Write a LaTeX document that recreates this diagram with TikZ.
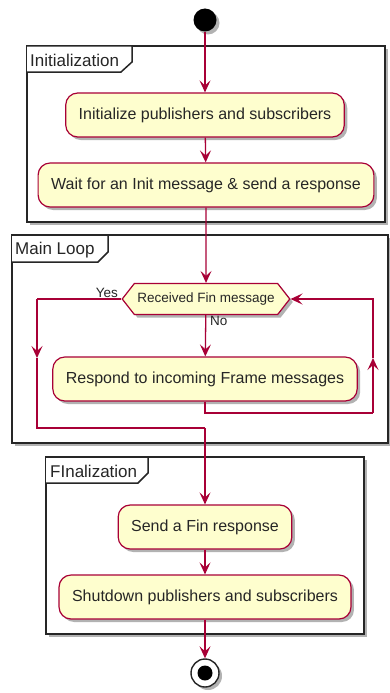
\documentclass[tikz,border=0pt]{standalone}
\usepackage{fontspec}
\setmainfont{Liberation Sans}
\usetikzlibrary{arrows.meta,shadows,shapes.symbols}
\definecolor{actfill}{HTML}{FEFECE}
\definecolor{actline}{HTML}{A80036}
\tikzset{
  x=1pt, y=-1pt,
  shade/.style={drop shadow={shadow xshift=3pt, shadow yshift=-3pt, opacity=0.3, fill=black}},
  action/.style={rounded corners=12pt, draw=actline, line width=1.2pt, fill=actfill,
    inner xsep=13pt, minimum height=44pt, font=\fontsize{16}{18}\selectfont, text=black!85, shade},
  choice/.style={signal, signal to=west and east, signal pointer angle=104, draw=actline,
    line width=1.2pt, fill=actfill, inner xsep=3pt, minimum height=31pt,
    font=\fontsize{13.5}{15}\selectfont, text=black!85, shade},
  flow/.style={draw=actline, line width=1.3pt},
  arr/.style={flow, -{Stealth[length=12pt, width=11pt, inset=5pt]}},
  framebox/.style={draw=black!85, line width=1.8pt, shade},
  tabline/.style={draw=black!85, line width=1.5pt},
  framelabel/.style={anchor=west, inner sep=0pt, font=\fontsize{17}{19}\selectfont, text=black!85},
  branch/.style={inner sep=0pt, font=\fontsize{13.5}{15}\selectfont, text=black!85},
}
\begin{document}
\begin{tikzpicture}
\useasboundingbox (0,0) rectangle (390,693);

% group frames
\path[framebox, fill=white] (27,46) rectangle (385,222);
\path[tabline, fill=white] (27,46) -- (132,46) -- (132,62) -- (121,72) -- (27,72);
\node[framelabel] (initlabel) at (30,60) {Initialization};

\path[framebox, fill=white] (12,235) rectangle (388,443);
\path[tabline, fill=white] (12,235) -- (108,235) -- (108,252) -- (98,262) -- (12,262);
\node[framelabel] (looplabel) at (15,250) {Main Loop};

\path[framebox, fill=white] (46,457) rectangle (364,634);
\path[tabline, fill=white] (46,457) -- (148,457) -- (148,473) -- (138,483) -- (46,483);
\node[framelabel] (finlabel) at (50,471) {FInalization};

% start and stop
\node[circle, fill=black, minimum size=23pt, inner sep=0pt, shade] (start) at (205,20) {};
\node[circle, draw=black!85, line width=1.4pt, fill=white, minimum size=28pt, inner sep=0pt, shade] (stop) at (205,673) {};
\node[circle, fill=black, minimum size=15pt, inner sep=0pt] (stopdot) at (stop) {};

% actions
\node[action] (init1) at (205,115) {Initialize publishers and subscribers};
\node[action] (init2) at (206,185) {Wait for an Init message \& send a response};
\node[choice] (fin) at (206,299) {Received Fin message};
\node[action] (resp) at (205,379) {Respond to incoming Frame messages};
\node[action] (fin1) at (205,527) {Send a Fin response};
\node[action] (fin2) at (205,597) {Shutdown publishers and subscribers};

% branch labels
\node[branch, anchor=south east] (yes) at (118,298) {Yes};
\node[branch, anchor=north west] (no) at (210,316) {No};

% bend points
\coordinate (yescorner) at (37,299);
\coordinate (yesmid) at (37,358);
\coordinate (yesbottom) at (37,428);
\coordinate (merge) at (205,428);
\coordinate (loopfoot) at (205,413);
\coordinate (loopcorner) at (373,413);
\coordinate (loopmid) at (373,358);
\coordinate (looptop) at (373,299);

% connectors
\draw[arr] (start) -- (init1);
\draw[arr] (init1) -- (init2);
\draw[arr] (init2) -- (fin);
\draw[arr] (fin) -- (resp);
\draw[flow] (resp.south) -- (loopfoot) -- (loopcorner);
\draw[arr] (loopcorner) -- (loopmid);
\draw[arr] (loopmid) -- (looptop) -- (fin.east);
\draw[flow] (fin.west) -- (yescorner);
\draw[arr] (yescorner) -- (yesmid);
\draw[flow] (yesmid) -- (yesbottom) -- (merge);
\draw[arr] (merge) -- (fin1);
\draw[arr] (fin1) -- (fin2);
\draw[arr] (fin2) -- (stop);
\end{tikzpicture}
\end{document}
